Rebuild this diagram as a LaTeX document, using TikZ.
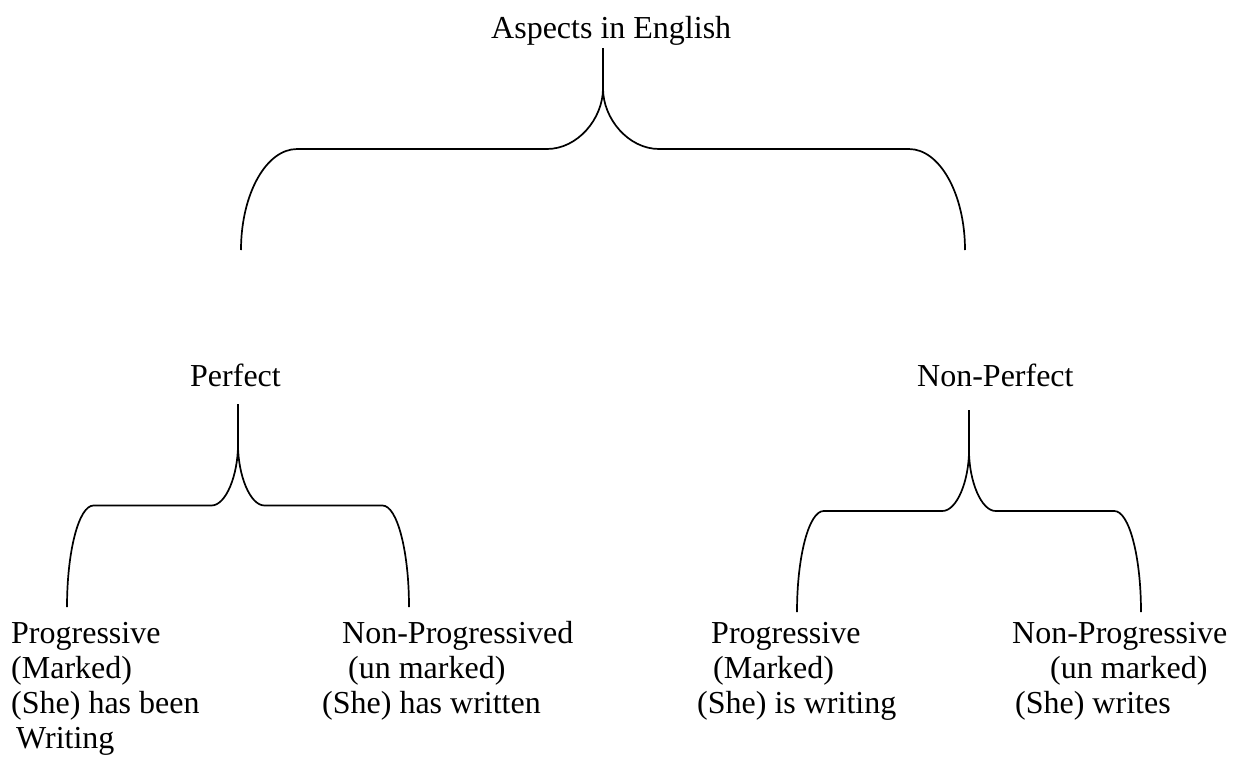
\documentclass[tikz,border=0pt]{standalone}
\usepackage{fontspec}
\setmainfont{Liberation Serif}
\usetikzlibrary{calc}

% several lines of left-aligned text whose baseline is that of the first line
\newcommand\leaftext[1]{\begin{tabular}[t]{@{}l@{}}#1\end{tabular}}

\tikzset{
  label/.style={anchor=base west, inner sep=0pt,
    font=\fontsize{32}{35}\selectfont},
  bracket/.style={line width=1.7pt, line join=round},
  % one half of a curly brace, from the stem top to the end of one foot
  halfbrace/.style={to path={
    let \p1=(\tikztostart), \p2=(\tikztotarget),
        \n1={\x2-\x1}, \n2={\y1-\y2} in
    -- (\x1,{\y1-0.2*\n2})
    .. controls (\x1,{\y1-0.35*\n2}) and ({\x1+0.07*(\n1)},{\y1-0.5*\n2})
    .. ({\x1+0.155*(\n1)},{\y1-0.5*\n2})
    -- ({\x2-0.155*(\n1)},{\y1-0.5*\n2})
    .. controls ({\x2-0.0694*(\n1)},{\y1-0.5*\n2}) and (\x2,{\y2+0.276*\n2})
    .. (\x2,\y2)
  }}
}

\begin{document}
\begin{tikzpicture}[x=1pt,y=1pt]
  \useasboundingbox (0,0) rectangle (1237,-758);

  % headings
  \node[label] (asp) at (491,-38) {Aspects in English};
  \node[label] (perf) at (190,-386) {Perfect};
  \node[label] (nonperf) at (917,-386) {Non-Perfect};

  % leaves
  \node[label] (pp) at (11,-643)
    {\leaftext{Progressive\\(Marked)\\(She) has been\\\hspace{5pt}Writing}};
  \node[label] (pn) at (322,-643)
    {\leaftext{\hspace{20pt}Non-Progressived\\\hspace{26pt}(un marked)\\(She) has written}};
  \node[label] (np) at (697,-643)
    {\leaftext{\hspace{14pt}Progressive\\\hspace{16pt}(Marked)\\(She) is writing}};
  \node[label] (nn) at (1012,-643)
    {\leaftext{Non-Progressive\\\hspace{38pt}(un marked)\\\hspace{3pt}(She) writes}};

  % stem tops and feet of the braces
  \coordinate (aspStem) at (603,-48);
  \coordinate (perfFoot) at (241,-250);
  \coordinate (nonperfFoot) at (965,-250);

  \coordinate (perfStem) at (238,-404);
  \coordinate (ppFoot) at (67,-607);
  \coordinate (pnFoot) at (409,-607);

  \coordinate (nonperfStem) at (969,-410);
  \coordinate (npFoot) at (797,-612);
  \coordinate (nnFoot) at (1141,-612);

  % braces
  \draw[bracket] (aspStem) to[halfbrace] (perfFoot);
  \draw[bracket] (aspStem) to[halfbrace] (nonperfFoot);
  \draw[bracket] (perfStem) to[halfbrace] (ppFoot);
  \draw[bracket] (perfStem) to[halfbrace] (pnFoot);
  \draw[bracket] (nonperfStem) to[halfbrace] (npFoot);
  \draw[bracket] (nonperfStem) to[halfbrace] (nnFoot);
\end{tikzpicture}
\end{document}
